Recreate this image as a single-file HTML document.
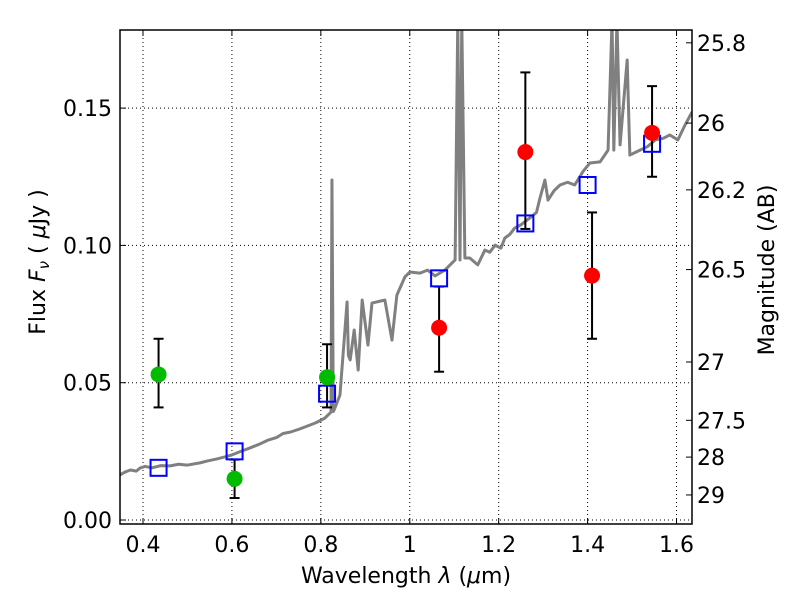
<!DOCTYPE html>
<html><head><meta charset="utf-8"><style>
body{margin:0;background:#fff}
text{font-family:"DejaVu Sans","Liberation Sans",sans-serif;fill:#000}
</style></head><body>
<svg id="c" width="800" height="600"></svg>
<script>
const specX=[0.348,0.360,0.372,0.385,0.393,0.405,0.420,0.440,0.461,0.480,0.500,0.528,0.545,0.565,0.585,0.600,0.620,0.640,0.663,0.680,0.700,0.715,0.731,0.750,0.776,0.790,0.809,0.823,0.825,0.828,0.830,0.843,0.859,0.862,0.866,0.875,0.884,0.893,0.906,0.915,0.944,0.960,0.971,0.989,1.000,1.023,1.040,1.057,1.079,1.102,1.108,1.113,1.117,1.124,1.135,1.153,1.169,1.180,1.192,1.205,1.214,1.225,1.236,1.250,1.270,1.285,1.293,1.304,1.311,1.325,1.338,1.355,1.371,1.390,1.405,1.428,1.446,1.455,1.459,1.466,1.473,1.489,1.495,1.518,1.535,1.552,1.570,1.585,1.603,1.619,1.635];
const specY=[0.0164,0.0175,0.0182,0.0178,0.0189,0.0195,0.0190,0.0198,0.0197,0.0203,0.0200,0.0208,0.0215,0.0222,0.0230,0.0237,0.0250,0.0262,0.0277,0.0290,0.0300,0.0315,0.0320,0.0330,0.0346,0.0355,0.0371,0.0393,0.1238,0.0395,0.0401,0.0455,0.0794,0.0600,0.0583,0.0692,0.0546,0.0801,0.0637,0.0790,0.0801,0.0655,0.0819,0.0885,0.0903,0.0899,0.0910,0.0889,0.0910,0.0947,0.182,0.0947,0.182,0.0954,0.0954,0.0929,0.0983,0.0975,0.1001,0.0990,0.1027,0.1040,0.1063,0.1075,0.1100,0.1120,0.1173,0.1238,0.1165,0.1200,0.1220,0.1230,0.1220,0.1270,0.1300,0.1304,0.1347,0.182,0.1347,0.182,0.1366,0.1675,0.1329,0.1347,0.1360,0.1384,0.1390,0.1402,0.1384,0.1438,0.1486];
const greenX=[0.435,0.606,0.814], greenY=[0.053,0.015,0.052], greenLo=[0.041,0.008,0.041], greenHi=[0.066,0.022,0.064];
const redX=[1.066,1.260,1.410,1.545], redY=[0.070,0.134,0.089,0.141], redLo=[0.054,0.106,0.066,0.125], redHi=[0.085,0.163,0.112,0.158];
const modX=[0.435,0.606,0.814,1.066,1.260,1.400,1.545], modY=[0.019,0.025,0.046,0.088,0.108,0.122,0.137];
const xTicks=[0.4,0.6,0.8,1.0,1.2,1.4,1.6], xTickLabels=["0.4","0.6","0.8","1","1.2","1.4","1.6"];
const yTicks=[0,0.05,0.10,0.15], yTickLabels=["0.00","0.05","0.10","0.15"];
const magTicks=[25.8,26,26.2,26.5,27,27.5,28,29], magLabels=["25.8","26","26.2","26.5","27","27.5","28","29"];
const L=120,R=692,T=30,B=524;
const sx=v=>143+(v-0.4)*444.6, sy=v=>520-v*2746;
const magToFlux=m=>Math.pow(10,(23.9-m)/2.5);
const svg=document.getElementById('c');const NS='http://www.w3.org/2000/svg';
function mk(t,a,p){const e=document.createElementNS(NS,t);for(const k in a)e.setAttribute(k,a[k]);(p||svg).appendChild(e);return e;}
const defs=mk('defs',{});const cp=mk('clipPath',{id:'cl'},defs);mk('rect',{x:L,y:T,width:R-L,height:B-T},cp);
const grid=mk('g',{stroke:'#000','stroke-width':1,'stroke-dasharray':'1,3'});


xTicks.forEach(v=>mk('line',{x1:sx(v),x2:sx(v),y1:T,y2:B},grid));
yTicks.forEach(v=>mk('line',{x1:L,x2:R,y1:sy(v),y2:sy(v)},grid));
const pl=mk('polyline',{points:specX.map((x,i)=>sx(x)+','+sy(specY[i])).join(' '),fill:'none',stroke:'#808080','stroke-width':3,'stroke-linejoin':'round','clip-path':'url(#cl)'});


function err(xs,lo,hi,name){const g=mk('g',{stroke:'#000','stroke-width':2});


xs.forEach((x,i)=>{const X=sx(x);mk('line',{x1:X,x2:X,y1:sy(lo[i]),y2:sy(hi[i])},g);mk('line',{x1:X-5,x2:X+5,y1:sy(lo[i]),y2:sy(lo[i])},g);mk('line',{x1:X-5,x2:X+5,y1:sy(hi[i]),y2:sy(hi[i])},g);});}
err(greenX,greenLo,greenHi,'green-errorbars');err(redX,redLo,redHi,'red-errorbars');
modX.forEach((x,i)=>{const r=mk('rect',{x:sx(x)-8,y:sy(modY[i])-8,width:16,height:16,fill:'none',stroke:'#0000ff','stroke-width':2});

});
greenX.forEach((x,i)=>{const c=mk('circle',{cx:sx(x),cy:sy(greenY[i]),r:8,fill:'#00bb00'});

});
redX.forEach((x,i)=>{const c=mk('circle',{cx:sx(x),cy:sy(redY[i]),r:8,fill:'#ff0000'});

});
const fr=mk('rect',{x:L,y:T,width:R-L,height:B-T,fill:'none',stroke:'#000','stroke-width':1.5});


const ax=mk('g',{stroke:'#000','stroke-width':1});
xTicks.forEach((v,i)=>{mk('line',{x1:sx(v),x2:sx(v),y1:B,y2:B-6},ax);mk('line',{x1:sx(v),x2:sx(v),y1:T,y2:T+6},ax);
const t=mk('text',{x:sx(v),y:B+28,'text-anchor':'middle','font-size':22,stroke:'none'});t.textContent=xTickLabels[i];

});
yTicks.forEach((v,i)=>{mk('line',{x1:L,x2:L+6,y1:sy(v),y2:sy(v)},ax);
const t=mk('text',{x:L-8,y:sy(v)+8,'text-anchor':'end','font-size':22,stroke:'none'});t.textContent=yTickLabels[i];

});
magTicks.forEach((m,i)=>{const Y=sy(magToFlux(m));mk('line',{x1:R,x2:R-6,y1:Y,y2:Y},ax);
const t=mk('text',{x:R+5,y:Y+8,'font-size':22,stroke:'none'});t.textContent=magLabels[i];

});
</script>
<svg width="800" height="600" style="position:absolute;left:0;top:0">
<text x="406" y="583" text-anchor="middle" font-size="22">Wavelength  <tspan font-style="italic">λ</tspan> (<tspan font-style="italic">μ</tspan>m)</text>
<text transform="translate(45,262) rotate(-90)" text-anchor="middle" font-size="22">Flux  <tspan font-style="italic">F</tspan><tspan font-style="italic" font-size="15" dy="4">ν</tspan><tspan dy="-4">  (  </tspan><tspan font-style="italic">μ</tspan>Jy )</text>
<text transform="translate(774,270) rotate(-90)" text-anchor="middle" font-size="22">Magnitude (AB)</text>
</svg>
</body></html>
